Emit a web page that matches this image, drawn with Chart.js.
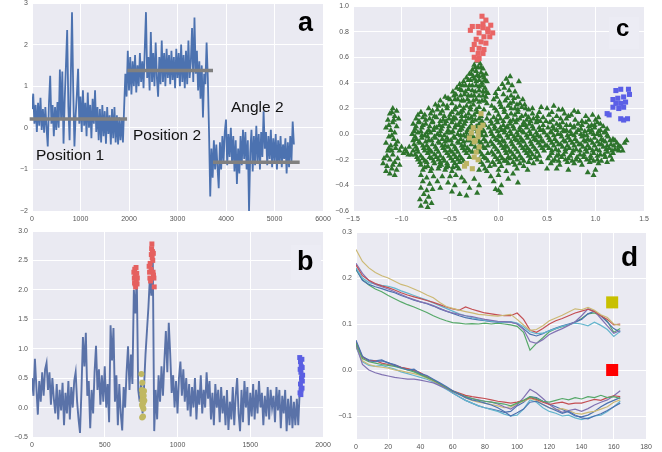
<!DOCTYPE html>
<html>
<head>
<meta charset="utf-8">
<script src="https://cdn.jsdelivr.net/npm/chart.js@4.4.1/dist/chart.umd.min.js"></script>
<style>
  html, body { margin: 0; padding: 0; background: #fff; }
  #page { position: relative; width: 662px; height: 452px; overflow: hidden; }
  canvas { position: absolute; left: -20px; top: -20px; }
  .tag { position: absolute; font-family: "Liberation Sans", Arial, sans-serif; font-weight: bold; line-height: 1; color: #000; }
  .note { position: absolute; font: 15.5px "Liberation Sans", Arial, sans-serif; line-height: 1; color: #111; white-space: nowrap; }
  .box { position: absolute; background: #ececf4; }
</style>
</head>
<body>
<div id="page">
  <canvas id="chart-a" width="702" height="492"></canvas>
  <canvas id="chart-b" width="702" height="492"></canvas>
  <canvas id="chart-c" width="702" height="492"></canvas>
  <canvas id="chart-d" width="702" height="492"></canvas>
  <div class="box" style="left:291px;top:245px;width:30px;height:35px"></div>
  <div class="box" style="left:609px;top:17px;width:30px;height:32px"></div>
  <div class="tag" style="left:298px;top:9px;font-size:27px">a</div>
  <div class="tag" style="left:297px;top:248px;font-size:27px">b</div>
  <div class="tag" style="left:616px;top:16px;font-size:24px">c</div>
  <div class="tag" style="left:621px;top:243px;font-size:28px">d</div>
  <div class="note" style="left:36px;top:147px">Position 1</div>
  <div class="note" style="left:133px;top:127px">Position 2</div>
  <div class="note" style="left:231px;top:99px">Angle 2</div>
</div>
<script>
// panel a: trace sampled every 25 frames, plus the three level bars
const aStep = 25;
const aValues = [
  0.45, 0.82, 0.1, 0.55, -0.1, 0.6, 0.05, 0.72, -0.05, 0.45,
  -0.12, 0.5, 0.0, -0.45, 0.6, 1.25, 0.1, 0.55, -0.2, 0.5,
  -0.05, 0.62, 0.0, 1.4, 0.2, 1.35, -0.38, 0.7, 1.5, 2.35,
  0.5, -0.3, 1.2, 2.78, 0.9, -0.45, 0.3, 0.8, 1.42, 0.1,
  0.75, -0.1, 0.9, 0.05, 0.6, -0.2, 0.85, 0.0, 0.55, -0.25,
  0.7, 0.1, 0.9, -0.1, 0.5, -0.3, 0.45, -0.35, 0.55, -0.2,
  0.4, -0.38, 0.5, -0.15, 0.3, -0.4, 0.45, -0.25, 0.5, -0.35,
  0.3, -0.4, 0.25, -0.3, 0.2, -0.35,
  0.5, 1.3, 0.75, 1.85,
  0.9, 1.7, 0.8, 1.6, 1.0, 1.75, 0.85, 1.5, 1.0, 1.8,
  1.1, 1.6, 0.95, 1.9, 2.78, 1.2, 1.7, 0.9, 2.3, 1.1,
  1.8, 1.0, 2.05, 1.2, 0.75, 1.7, 1.05, 2.1, 1.1, 1.8,
  1.0, 1.9, 1.2, 1.75, 1.05, 1.85, 1.15, 1.7, 0.95, 1.9,
  1.2, 1.8, 1.0, 2.0, 1.1, 1.75, 0.95, 1.85, 1.05, 2.1,
  1.2, 1.6, 2.4, 1.1, 2.65, 1.3, 1.85, 0.9, 1.6, 0.7,
  1.5, 0.25, 1.3, 1.05, 2.05, 1.2, -0.1, -1.65, -0.5, -1.2,
  -0.3, -1.0, -0.4, -0.95, -1.45, -0.35, -1.0, -0.2, -0.8, -0.1,
  0.2, -0.9, -0.15, -0.7, 0.0, -0.85, -0.2, -1.05, -0.3, -1.35,
  -0.5, -1.1, -0.2, -0.9, -0.05, -0.75, -0.1, -1.0, -0.3, -2.0,
  -0.6, -0.05, -1.05, -0.2, -0.9, 0.05, -0.8, -0.15, -1.0, -0.1,
  -0.7, 0.4, -0.5, -0.1, -0.9, -0.2, -0.75, -0.05, -0.95, -0.25,
  -0.8, -0.15, -1.0, -0.3, -0.85, -0.2, -0.95, -0.4, -0.75, -0.25,
  -1.1, -0.35, -0.95, -0.2, -0.8, 0.15, -0.4
];
const aLevelStart = [-48, 1966, 3732];
const aLevelEnd = [1960, 3732, 5519];
const aLevelValue = [0.21, 1.38, -0.83];
const aXTicks = [0, 1000, 2000, 3000, 4000, 5000, 6000];
const aYTicks = [-2, -1, 0, 1, 2, 3];

// panel b: trace sampled every 10 frames, with the marked frames
const bStep = 10;
const bValues = [
  0.5, 0.2, 0.83, 0.35, -0.12, 0.45, 0.1, 0.6, 0.2, 0.65,
  0.76, 0.3, 0.6, 0.05, 0.5, 0.15, -0.1, 0.4, -0.2, 0.3,
  -0.05, 0.42, -0.3, 0.25, -0.1, 0.45, -0.2, 0.35, 0.0, 0.45,
  0.6, 0.1, -0.2, -0.43, 0.3, 1.2, 0.7, 1.27, 0.2, 0.45,
  -0.35, 0.3, -0.1, 0.6, 1.05, 0.3, 0.65, 0.05, 0.55, 0.1,
  0.7, 0.0, 0.4, -0.25, 1.4, 0.8, 1.35, 0.1, 0.55, -0.3,
  0.4, -0.1, -0.39, 0.35, 0.0, 0.6, 1.04, 0.3, 0.9, 0.4,
  2.0, 1.6, 2.2, 0.3, 0.1, 0.45, -0.1, 0.35, 0.9, 1.3,
  1.7, 2.2, 1.9, 2.6, -0.4, 0.3, -0.2, 0.55, 0.1, 0.7,
  0.2, 0.8, 1.3, 0.6, 1.44, 0.9, 0.25, 0.55, 0.0, 0.45,
  -0.1, 0.5, 0.78, 0.2, 0.65, 0.1, 0.5, -0.05, 0.4, -0.15,
  0.35, 0.0, 0.5, -0.2, 0.3, 0.05, 0.55, -0.1, 0.3, 0.0,
  0.6, 0.15, 0.45, -0.2, 0.25, -0.3, 0.4, 0.0, 0.3, -0.25,
  0.35, -0.1, 0.2, -0.3, 0.3, -0.38, 0.1, -0.2, 0.35, -0.3,
  0.2, 0.5, -0.1, -0.4, 0.3, -0.25, 0.45, 0.0, 0.35, -0.3,
  0.25, -0.15, 0.4, -0.2, 0.3, -0.1, 0.45, 0.0, 0.25, -0.3,
  0.2, -0.15, 0.35, -0.2, 0.3, 0.0, 0.2, -0.25, 0.35, -0.05,
  0.3, -0.35, 0.2, -0.1, 0.3, -0.4, 0.15, -0.3, 0.2, -0.35,
  0.1, -0.3, 0.15, -0.3, 0.3, 0.85, 0.5
];
const bRed = [
  [700, 2.3], [703, 2.2], [705, 2.12], [706, 2.35], [708, 2.1], [710, 2.25], [712, 2.05],
  [715, 2.38], [717, 2.15], [720, 2.28], [722, 2.1], [724, 2.2],
  [805, 2.4], [808, 2.3], [810, 2.2], [812, 2.45], [815, 2.15], [818, 2.35], [820, 2.6],
  [822, 2.7], [824, 2.78], [826, 2.55], [828, 2.65], [830, 2.5], [832, 2.3], [834, 2.62],
  [835, 2.25], [838, 2.2], [840, 2.05]
];
const bOlive = [
  [752, 0.57], [758, 0.42], [755, 0.3], [760, 0.25], [762, 0.18], [758, 0.12], [765, 0.08],
  [760, 0.02], [768, 0.2], [756, 0.05], [763, -0.15], [770, 0.28], [766, -0.02], [759, 0.22],
  [772, 0.12], [757, -0.17]
];
const bBlue = [
  [1840, 0.85], [1845, 0.78], [1850, 0.7], [1855, 0.82], [1848, 0.6], [1852, 0.5], [1858, 0.45],
  [1845, 0.4], [1850, 0.3], [1856, 0.33], [1842, 0.25], [1848, 0.22], [1860, 0.55], [1843, 0.65],
  [1857, 0.68]
];
const bXTicks = [0, 500, 1000, 1500, 2000];
const bYTicks = [-0.5, 0.0, 0.5, 1.0, 1.5, 2.0, 2.5, 3.0];

// panel c: projection of all frames (green) and of the marked frames
const cGreen = [
  [-0.22, 0.57], [-0.19, 0.55], [-0.25, 0.54], [-0.21, 0.52], [-0.16, 0.51], [-0.27, 0.5], [-0.23, 0.49],
  [-0.18, 0.48], [-0.13, 0.47], [-0.3, 0.47], [-0.26, 0.45], [-0.2, 0.45], [-0.15, 0.44], [-0.33, 0.44],
  [-0.36, 0.41], [-0.29, 0.42], [-0.23, 0.41], [-0.17, 0.4], [-0.12, 0.41], [-0.4, 0.39], [-0.34, 0.38],
  [-0.27, 0.38], [-0.2, 0.37], [-0.14, 0.36], [-0.43, 0.36], [-0.38, 0.34], [-0.31, 0.35], [-0.24, 0.33],
  [-0.16, 0.33], [-0.11, 0.32], [-0.47, 0.33], [-0.44, 0.31], [-0.35, 0.31], [-0.28, 0.3], [-0.2, 0.3],
  [-0.13, 0.29],
  [-0.24, 0.52], [-0.18, 0.52], [-0.28, 0.47], [-0.22, 0.46], [-0.16, 0.46], [-0.31, 0.42], [-0.25, 0.43],
  [-0.2, 0.42], [-0.14, 0.42], [-0.37, 0.38], [-0.3, 0.38], [-0.23, 0.38], [-0.17, 0.38], [-0.4, 0.35],
  [-0.34, 0.33], [-0.27, 0.34], [-0.2, 0.34], [-0.13, 0.33], [-0.46, 0.3], [-0.39, 0.3], [-0.31, 0.3],
  [-0.25, 0.3], [-0.16, 0.3], [-0.52, 0.28], [-0.45, 0.27], [-0.38, 0.26], [-0.32, 0.27], [-0.26, 0.26],
  [-0.2, 0.25], [-0.14, 0.26],
  [0.12, 0.45], [0.08, 0.43], [0.21, 0.41], [0.1, 0.4], [0.04, 0.39], [0.14, 0.38], [0.06, 0.36],
  [0.0, 0.35], [0.11, 0.34], [0.17, 0.33], [-0.03, 0.32], [0.05, 0.31], [0.13, 0.3], [0.2, 0.29], [0.25, 0.27],
  [-0.55, 0.29], [-0.5, 0.27], [-0.6, 0.26], [-0.42, 0.27], [-0.36, 0.26], [-0.3, 0.25], [-0.23, 0.27],
  [-0.17, 0.26], [-0.65, 0.23], [-0.57, 0.23], [-0.48, 0.24], [-0.4, 0.22], [-0.33, 0.22], [-0.26, 0.23],
  [-0.2, 0.21], [-0.12, 0.24], [-0.72, 0.2], [-0.63, 0.19], [-0.53, 0.2], [-0.45, 0.19], [-0.37, 0.18],
  [-0.29, 0.19], [-0.15, 0.19], [-0.8, 0.17], [-0.7, 0.16], [-0.6, 0.16], [-0.5, 0.15], [-0.42, 0.16],
  [-0.34, 0.14], [-0.25, 0.15], [-0.18, 0.14], [-0.1, 0.16],
  [-0.62, 0.22], [-0.53, 0.22], [-0.44, 0.21], [-0.36, 0.2], [-0.29, 0.21], [-0.23, 0.19], [-0.68, 0.18],
  [-0.58, 0.18], [-0.48, 0.17], [-0.39, 0.17], [-0.31, 0.16], [-0.22, 0.17], [-0.76, 0.15], [-0.66, 0.14],
  [-0.56, 0.14], [-0.46, 0.13], [-0.38, 0.14], [-0.28, 0.13], [-0.2, 0.12], [-0.83, 0.15],
  [-0.05, 0.27], [0.01, 0.25], [0.07, 0.26], [0.15, 0.25], [0.22, 0.24], [-0.07, 0.22], [0.03, 0.21],
  [0.1, 0.22], [0.17, 0.2], [0.24, 0.21], [0.31, 0.19], [-0.02, 0.18], [0.06, 0.17], [0.13, 0.16],
  [0.2, 0.17], [0.28, 0.15], [0.35, 0.16], [0.42, 0.17], [0.35, 0.2], [0.44, 0.21], [0.4, 0.14],
  [0.0, 0.15], [0.09, 0.14], [0.17, 0.15], [0.24, 0.14], [0.31, 0.13], [-0.04, 0.2], [0.06, 0.19],
  [0.13, 0.2], [0.2, 0.19], [0.28, 0.2], [0.02, 0.23], [0.12, 0.24], [0.19, 0.23], [0.27, 0.23],
  [-0.02, 0.29], [0.09, 0.28], [0.16, 0.28],
  [0.5, 0.2], [0.57, 0.22], [0.62, 0.19], [0.52, 0.15], [0.6, 0.14], [0.68, 0.16], [0.75, 0.15],
  [0.82, 0.17], [0.9, 0.14], [0.97, 0.15], [1.03, 0.13], [0.7, 0.12], [0.79, 0.11], [0.46, 0.13], [0.86, 0.1],
  [0.49, 0.1], [0.56, 0.11], [0.64, 0.12], [0.72, 0.14], [0.93, 0.11], [1.0, 0.11], [0.55, 0.17],
  [0.66, 0.19], [0.78, 0.18],
  [-1.09, 0.2], [-1.05, 0.18], [-1.12, 0.16], [-1.07, 0.14], [-1.03, 0.12], [-1.14, 0.11], [-1.09, 0.09],
  [-1.05, 0.06], [-1.16, 0.05], [-1.11, 0.03], [-1.07, 0.01], [-1.13, -0.02], [-1.08, -0.04], [-1.04, -0.06],
  [-1.16, -0.07], [-1.11, -0.09], [-1.06, -0.11], [-1.0, -0.1], [-0.96, -0.12], [-0.92, -0.1], [-0.88, -0.13],
  [-0.98, -0.15], [-0.93, -0.16], [-1.14, -0.13], [-1.09, -0.16], [-1.18, -0.19], [-1.12, -0.2], [-1.07, -0.22],
  [-1.15, -0.25], [-1.1, -0.27], [-1.05, -0.28], [-1.12, -0.31], [-1.07, -0.32], [-1.02, -0.24], [-1.19, -0.23],
  [-1.1, 0.17], [-1.13, 0.07], [-1.08, 0.11], [-1.1, -0.01], [-1.06, -0.08], [-1.13, -0.11], [-1.02, -0.13],
  [-1.1, -0.13], [-1.15, -0.17], [-1.09, -0.24], [-1.04, -0.19], [-0.95, -0.14], [-0.9, -0.16], [-1.16, -0.29],
  [-0.85, 0.12], [-0.78, 0.13], [-0.71, 0.12], [-0.64, 0.13], [-0.57, 0.11], [-0.51, 0.12], [-0.44, 0.12],
  [-0.38, 0.11], [-0.31, 0.12], [-0.24, 0.11], [-0.17, 0.1], [-0.12, 0.12],
  [-0.82, 0.1], [-0.75, 0.11], [-0.68, 0.1], [-0.6, 0.1], [-0.54, 0.1], [-0.47, 0.11], [-0.4, 0.09],
  [-0.34, 0.1], [-0.27, 0.1],
  [-0.88, 0.08], [-0.82, 0.09], [-0.75, 0.08], [-0.68, 0.09], [-0.61, 0.07], [-0.55, 0.08], [-0.48, 0.09],
  [-0.41, 0.07], [-0.35, 0.08], [-0.28, 0.07], [-0.2, 0.08], [-0.14, 0.07],
  [-0.85, 0.06], [-0.78, 0.07], [-0.71, 0.06], [-0.64, 0.05], [-0.58, 0.06], [-0.51, 0.06], [-0.44, 0.07],
  [-0.37, 0.06], [-0.3, 0.05], [-0.23, 0.06],
  [-0.86, 0.04], [-0.79, 0.05], [-0.72, 0.03], [-0.66, 0.05], [-0.59, 0.04], [-0.52, 0.03], [-0.45, 0.05],
  [-0.38, 0.04], [-0.32, 0.03], [-0.25, 0.04], [-0.16, 0.03], [-0.1, 0.05],
  [-0.87, 0.02], [-0.8, 0.02], [-0.74, 0.01], [-0.67, 0.03], [-0.6, 0.02], [-0.53, 0.01], [-0.47, 0.02],
  [-0.4, 0.03], [-0.33, 0.01], [-0.22, 0.02], [-0.15, 0.02],
  [-0.89, 0.0], [-0.83, 0.01], [-0.76, -0.01], [-0.7, 0.01], [-0.63, 0.0], [-0.56, -0.01], [-0.49, 0.01],
  [-0.42, 0.0], [-0.36, -0.01], [-0.29, 0.0], [-0.19, 0.01], [-0.13, -0.01],
  [-0.86, -0.02], [-0.79, -0.01], [-0.73, -0.02], [-0.66, -0.02], [-0.6, -0.01], [-0.53, -0.03], [-0.46, -0.02],
  [-0.39, -0.01], [-0.33, -0.02], [-0.26, -0.02], [-0.17, -0.01],
  [-0.85, -0.04], [-0.79, -0.03], [-0.72, -0.05], [-0.65, -0.03], [-0.58, -0.04], [-0.52, -0.05], [-0.45, -0.03],
  [-0.39, -0.04], [-0.32, -0.05], [-0.22, -0.03], [-0.15, -0.04],
  [-0.88, -0.05], [-0.82, -0.06], [-0.75, -0.06], [-0.69, -0.05], [-0.62, -0.06], [-0.55, -0.06], [-0.49, -0.05],
  [-0.42, -0.06], [-0.36, -0.06], [-0.3, -0.05], [-0.2, -0.06], [-0.13, -0.06],
  [-0.87, -0.08], [-0.81, -0.07], [-0.74, -0.09], [-0.68, -0.08], [-0.61, -0.07], [-0.55, -0.09], [-0.48, -0.08],
  [-0.41, -0.07], [-0.35, -0.09], [-0.28, -0.08], [-0.18, -0.07], [-0.11, -0.09],
  [-0.85, -0.1], [-0.78, -0.09], [-0.72, -0.11], [-0.65, -0.1], [-0.58, -0.09], [-0.52, -0.1], [-0.45, -0.1],
  [-0.38, -0.09], [-0.32, -0.11], [-0.24, -0.1], [-0.16, -0.1],
  [-0.84, -0.12], [-0.77, -0.11], [-0.71, -0.13], [-0.64, -0.12], [-0.57, -0.11], [-0.5, -0.13], [-0.44, -0.12],
  [-0.37, -0.11], [-0.3, -0.13], [-0.21, -0.12], [-0.14, -0.11],
  [-0.83, -0.14], [-0.76, -0.13], [-0.69, -0.14], [-0.62, -0.14], [-0.55, -0.13], [-0.48, -0.14], [-0.42, -0.14],
  [-0.35, -0.13], [-0.27, -0.14], [-0.19, -0.14],
  [-0.86, -0.16], [-0.8, -0.17], [-0.73, -0.15], [-0.66, -0.16], [-0.6, -0.17], [-0.53, -0.15], [-0.46, -0.16],
  [-0.4, -0.17], [-0.33, -0.15], [-0.17, -0.16], [-0.11, -0.15],
  [-0.84, -0.18], [-0.78, -0.19], [-0.71, -0.18], [-0.64, -0.18], [-0.57, -0.19], [-0.51, -0.17], [-0.44, -0.18],
  [-0.38, -0.19], [-0.3, -0.18], [-0.15, -0.18],
  [-0.83, -0.2], [-0.76, -0.21], [-0.69, -0.19], [-0.62, -0.2], [-0.56, -0.21], [-0.49, -0.19], [-0.42, -0.2],
  [-0.36, -0.21], [-0.2, -0.2], [-0.13, -0.19],
  [-0.81, -0.22], [-0.74, -0.22], [-0.67, -0.21], [-0.6, -0.22], [-0.53, -0.23], [-0.47, -0.21], [-0.4, -0.22],
  [-0.18, -0.22], [-0.11, -0.21],
  [-0.8, -0.24], [-0.73, -0.25], [-0.66, -0.23], [-0.59, -0.24], [-0.52, -0.25], [-0.45, -0.23], [-0.16, -0.24],
  [-0.09, -0.25],
  [-0.76, -0.26], [-0.69, -0.27], [-0.61, -0.25], [-0.54, -0.26], [-0.47, -0.26], [-0.43, -0.25], [-0.14, -0.27],
  [-0.78, -0.28], [-0.7, -0.29], [-0.62, -0.27], [-0.55, -0.28], [-0.48, -0.29], [-0.41, -0.27], [-0.2, -0.28],
  [-0.12, -0.29],
  [-0.8, -0.32], [-0.74, -0.34], [-0.67, -0.33], [-0.78, -0.37], [-0.71, -0.39], [-0.63, -0.37], [-0.8, -0.42],
  [-0.74, -0.44], [-0.68, -0.43], [-0.77, -0.47], [-0.72, -0.49], [-0.81, -0.51], [-0.75, -0.53], [-0.69, -0.54],
  [-0.8, -0.56], [-0.73, -0.57], [-0.58, -0.33], [-0.6, -0.42],
  [-0.5, -0.33], [-0.44, -0.32], [-0.38, -0.34], [-0.52, -0.38], [-0.45, -0.4], [-0.35, -0.37], [-0.48, -0.45],
  [-0.4, -0.47], [-0.3, -0.42], [-0.25, -0.35], [-0.2, -0.4], [-0.22, -0.46], [-0.33, -0.48],
  [-0.08, -0.33], [0.0, -0.32], [-0.05, -0.37], [0.03, -0.4], [-0.03, -0.43], [0.02, -0.46], [0.0, -0.44],
  [0.1, -0.35], [0.2, -0.38], [0.15, -0.31],
  [-0.05, 0.13], [0.02, 0.12], [0.08, 0.13], [0.15, 0.11], [0.22, 0.12], [0.29, 0.11], [0.36, 0.12], [0.43, 0.1],
  [-0.08, 0.1], [-0.02, 0.11], [0.05, 0.1], [0.12, 0.1], [0.19, 0.11], [0.26, 0.09], [0.33, 0.1], [0.4, 0.11],
  [-0.07, 0.08], [-0.01, 0.09], [0.05, 0.07], [0.12, 0.08], [0.18, 0.09], [0.25, 0.07], [0.32, 0.08], [0.39, 0.09],
  [0.46, 0.07],
  [-0.04, 0.06], [0.02, 0.05], [0.09, 0.06], [0.15, 0.06], [0.22, 0.05], [0.28, 0.07], [0.35, 0.06], [0.42, 0.05],
  [-0.04, 0.04], [0.03, 0.03], [0.09, 0.05], [0.16, 0.04], [0.22, 0.03], [0.29, 0.05], [0.36, 0.04], [0.43, 0.03],
  [-0.08, 0.02], [-0.01, 0.02], [0.06, 0.03], [0.12, 0.02], [0.19, 0.01], [0.25, 0.02], [0.32, 0.02], [0.39, 0.01],
  [0.46, 0.03],
  [-0.07, 0.0], [0.0, -0.01], [0.06, 0.01], [0.13, 0.0], [0.2, -0.01], [0.26, 0.01], [0.33, 0.0], [0.4, -0.01],
  [0.47, 0.01],
  [-0.05, -0.02], [0.02, -0.02], [0.09, -0.01], [0.16, -0.02], [0.23, -0.03], [0.29, -0.01], [0.36, -0.02],
  [0.43, -0.02],
  [-0.03, -0.04], [0.04, -0.05], [0.1, -0.03], [0.17, -0.04], [0.24, -0.05], [0.3, -0.03], [0.37, -0.04],
  [0.44, -0.05],
  [-0.08, -0.06], [-0.01, -0.05], [0.06, -0.06], [0.13, -0.06], [0.19, -0.05], [0.26, -0.06], [0.33, -0.06],
  [0.39, -0.05], [0.46, -0.06],
  [-0.06, -0.08], [0.01, -0.07], [0.07, -0.09], [0.14, -0.08], [0.21, -0.07], [0.28, -0.09], [0.34, -0.08],
  [0.41, -0.07], [0.48, -0.09],
  [-0.04, -0.1], [0.03, -0.09], [0.09, -0.1], [0.16, -0.1], [0.23, -0.09], [0.3, -0.11], [0.36, -0.1],
  [0.43, -0.09],
  [-0.02, -0.12], [0.05, -0.11], [0.11, -0.13], [0.18, -0.12], [0.25, -0.11], [0.32, -0.13], [0.38, -0.12],
  [0.45, -0.11],
  [-0.07, -0.14], [0.0, -0.14], [0.07, -0.13], [0.13, -0.14], [0.2, -0.14], [0.27, -0.13], [0.33, -0.14],
  [0.4, -0.14], [0.47, -0.13],
  [-0.05, -0.16], [0.02, -0.17], [0.08, -0.15], [0.15, -0.16], [0.22, -0.17], [0.29, -0.15], [0.35, -0.16],
  [0.42, -0.17],
  [-0.03, -0.18], [0.04, -0.19], [0.1, -0.18], [0.17, -0.18], [0.24, -0.19], [0.31, -0.17], [0.38, -0.18],
  [-0.01, -0.2], [0.06, -0.21], [0.12, -0.19], [0.19, -0.2], [0.26, -0.21], [0.33, -0.19], [0.4, -0.2],
  [-0.06, -0.22], [0.01, -0.22], [0.08, -0.21], [0.15, -0.22], [0.22, -0.23], [0.31, -0.22], [0.44, -0.22],
  [-0.04, -0.24], [0.03, -0.25], [0.1, -0.23], [0.17, -0.24], [0.26, -0.25], [0.36, -0.23],
  [0.0, -0.28], [0.08, -0.29], [0.19, -0.27], [0.3, -0.28],
  [0.53, 0.09], [0.6, 0.08], [0.66, 0.09], [0.74, 0.07], [0.82, 0.08], [0.9, 0.09], [0.96, 0.07], [1.02, 0.09],
  [1.08, 0.06],
  [0.56, 0.06], [0.63, 0.07], [0.7, 0.07], [0.78, 0.06], [0.86, 0.07], [0.93, 0.06], [0.99, 0.07], [1.05, 0.08],
  [0.51, 0.05], [0.57, 0.04], [0.64, 0.05], [0.7, 0.03], [0.77, 0.05], [0.85, 0.04], [0.93, 0.03], [0.99, 0.05],
  [1.05, 0.03], [1.12, 0.04],
  [0.54, 0.02], [0.6, 0.03], [0.67, 0.03], [0.74, 0.02], [0.82, 0.03], [0.89, 0.02], [0.96, 0.03], [1.03, 0.02],
  [1.1, 0.02],
  [0.54, 0.01], [0.61, 0.0], [0.68, 0.02], [0.75, 0.0], [0.8, 0.01], [0.88, -0.01], [0.95, 0.01], [1.02, 0.0],
  [1.09, 0.01],
  [0.5, -0.01], [0.57, -0.01], [0.64, 0.0], [0.71, -0.01], [0.78, -0.01], [0.85, 0.0], [0.91, -0.01],
  [0.98, 0.0], [1.05, -0.01], [1.12, -0.01],
  [0.52, -0.03], [0.58, -0.04], [0.65, -0.02], [0.72, -0.03], [0.79, -0.04], [0.86, -0.02], [0.92, -0.04],
  [0.99, -0.03], [1.06, -0.04], [1.13, -0.02], [1.18, -0.04],
  [0.53, -0.05], [0.6, -0.06], [0.67, -0.05], [0.74, -0.05], [0.81, -0.06], [0.88, -0.05], [0.95, -0.05],
  [1.02, -0.06], [1.08, -0.05], [1.15, -0.05], [1.2, -0.05],
  [0.55, -0.07], [0.62, -0.08], [0.69, -0.06], [0.76, -0.07], [0.83, -0.08], [0.9, -0.06], [0.97, -0.07],
  [1.04, -0.08], [1.1, -0.06], [1.16, -0.08], [1.22, -0.07],
  [0.5, -0.09], [0.57, -0.09], [0.64, -0.08], [0.71, -0.09], [0.78, -0.09], [0.85, -0.08], [0.92, -0.09],
  [0.99, -0.09], [1.06, -0.08], [1.12, -0.09], [1.19, -0.09], [1.24, -0.09],
  [0.52, -0.11], [0.59, -0.12], [0.66, -0.1], [0.73, -0.11], [0.8, -0.12], [0.87, -0.1], [0.94, -0.11],
  [1.01, -0.12], [1.08, -0.1], [1.14, -0.11], [1.2, -0.12], [1.26, -0.1],
  [0.55, -0.13], [0.62, -0.13], [0.69, -0.12], [0.77, -0.13], [0.84, -0.13], [0.9, -0.12], [0.97, -0.13],
  [1.04, -0.13], [1.11, -0.12], [1.17, -0.13], [1.23, -0.12],
  [0.55, -0.15], [0.62, -0.16], [0.69, -0.14], [0.76, -0.15], [0.84, -0.16], [0.91, -0.14], [0.98, -0.15],
  [1.05, -0.16], [1.12, -0.14], [1.18, -0.15], [1.24, -0.13],
  [0.53, -0.17], [0.6, -0.17], [0.67, -0.16], [0.74, -0.17], [0.81, -0.18], [0.88, -0.16], [0.95, -0.17],
  [1.02, -0.17], [1.09, -0.16], [1.15, -0.17],
  [0.51, -0.19], [0.58, -0.2], [0.65, -0.18], [0.72, -0.19], [0.8, -0.2], [0.88, -0.18], [0.95, -0.19],
  [1.02, -0.2], [1.1, -0.18], [1.17, -0.2],
  [0.56, -0.21], [0.62, -0.21], [0.69, -0.2], [0.76, -0.21], [0.84, -0.21], [0.91, -0.2], [0.98, -0.21],
  [1.06, -0.21],
  [0.54, -0.23], [0.63, -0.24], [0.71, -0.22], [0.78, -0.23], [0.86, -0.24], [0.94, -0.22], [1.03, -0.23],
  [1.12, -0.22],
  [0.6, -0.27], [0.72, -0.28], [0.92, -0.3], [1.0, -0.28], [0.98, -0.32], [0.5, -0.27], [1.3, -0.07],
  [1.28, -0.13], [1.32, -0.05]
];
const cRed = [
  [-0.17, 0.92], [-0.13, 0.89], [-0.08, 0.85], [-0.11, 0.82], [-0.21, 0.84], [-0.27, 0.84], [-0.29, 0.81],
  [-0.16, 0.83], [-0.2, 0.79], [-0.15, 0.76], [-0.09, 0.76], [-0.23, 0.74], [-0.18, 0.72], [-0.13, 0.71],
  [-0.25, 0.7], [-0.2, 0.67], [-0.15, 0.66], [-0.21, 0.63], [-0.16, 0.63], [-0.25, 0.6], [-0.2, 0.59],
  [-0.22, 0.58], [-0.27, 0.66], [-0.11, 0.8], [-0.16, 0.86], [-0.06, 0.79]
];
const cBlue = [
  [1.21, 0.34], [1.26, 0.35], [1.34, 0.35], [1.18, 0.27], [1.23, 0.28], [1.29, 0.29], [1.35, 0.31],
  [1.21, 0.24], [1.26, 0.24], [1.31, 0.25], [1.24, 0.2], [1.29, 0.21], [1.14, 0.15], [1.12, 0.16],
  [1.26, 0.12], [1.29, 0.11], [1.33, 0.12], [1.18, 0.21]
];
const cOlive = [
  [-0.18, 0.16], [-0.16, 0.07], [-0.28, 0.01], [-0.21, -0.02], [-0.25, -0.06], [-0.2, -0.1], [-0.23, -0.14],
  [-0.25, -0.18], [-0.21, -0.2], [-0.33, -0.23], [-0.35, -0.25], [-0.27, -0.27], [-0.24, -0.05], [-0.3, -0.03],
  [-0.21, 0.02], [-0.19, 0.05], [-0.26, 0.05]
];
const cXTicks = [-1.5, -1.0, -0.5, 0.0, 0.5, 1.0, 1.5];
const cYTicks = [-0.6, -0.4, -0.2, 0.0, 0.2, 0.4, 0.6, 0.8, 1.0];

// panel d: profiles sampled every 4 steps, two groups of curves
const dStep = 4;
const dUpYellow = [0.262, 0.236, 0.222, 0.212, 0.205, 0.2, 0.193, 0.186, 0.182, 0.176, 0.17, 0.163, 0.157, 0.147, 0.138, 0.134, 0.13, 0.127, 0.124, 0.121, 0.12, 0.118, 0.117, 0.119, 0.121, 0.11, 0.098, 0.086, 0.088, 0.096, 0.107, 0.113, 0.119, 0.126, 0.133, 0.131, 0.136, 0.13, 0.12, 0.114, 0.1, 0.097];
const dUpRed = [0.228, 0.205, 0.195, 0.188, 0.183, 0.179, 0.174, 0.168, 0.163, 0.159, 0.155, 0.151, 0.147, 0.142, 0.137, 0.133, 0.13, 0.137, 0.132, 0.128, 0.124, 0.122, 0.12, 0.118, 0.118, 0.124, 0.11, 0.087, 0.082, 0.09, 0.1, 0.107, 0.112, 0.118, 0.124, 0.128, 0.132, 0.127, 0.118, 0.11, 0.098, 0.1];
const dUpPurple = [0.232, 0.21, 0.194, 0.186, 0.181, 0.176, 0.17, 0.164, 0.158, 0.153, 0.148, 0.145, 0.14, 0.134, 0.128, 0.124, 0.121, 0.118, 0.116, 0.113, 0.11, 0.108, 0.106, 0.105, 0.104, 0.1, 0.088, 0.062, 0.058, 0.066, 0.077, 0.084, 0.09, 0.097, 0.105, 0.118, 0.133, 0.128, 0.112, 0.096, 0.08, 0.086];
const dUpCyan = [0.222, 0.2, 0.19, 0.187, 0.184, 0.182, 0.178, 0.172, 0.167, 0.162, 0.157, 0.152, 0.146, 0.14, 0.134, 0.128, 0.122, 0.118, 0.114, 0.111, 0.108, 0.106, 0.105, 0.104, 0.105, 0.102, 0.094, 0.083, 0.079, 0.08, 0.085, 0.09, 0.095, 0.099, 0.102, 0.1, 0.096, 0.104, 0.097, 0.088, 0.073, 0.084];
const dUpBlue = [0.22, 0.195, 0.186, 0.181, 0.177, 0.172, 0.168, 0.162, 0.157, 0.152, 0.148, 0.144, 0.139, 0.133, 0.128, 0.123, 0.118, 0.114, 0.111, 0.109, 0.107, 0.105, 0.104, 0.104, 0.104, 0.101, 0.09, 0.078, 0.074, 0.079, 0.086, 0.091, 0.096, 0.1, 0.104, 0.11, 0.122, 0.128, 0.118, 0.104, 0.09, 0.082];
const dUpGreen = [0.218, 0.196, 0.185, 0.176, 0.17, 0.162, 0.155, 0.148, 0.142, 0.137, 0.131, 0.125, 0.118, 0.112, 0.107, 0.103, 0.102, 0.1, 0.101, 0.1, 0.102, 0.1, 0.102, 0.1, 0.098, 0.095, 0.082, 0.043, 0.058, 0.07, 0.083, 0.09, 0.094, 0.098, 0.104, 0.112, 0.122, 0.124, 0.118, 0.106, 0.082, 0.09];
const dLoBlue = [0.065, 0.03, 0.02, 0.018, 0.02, 0.016, 0.01, 0.005, 0.0, 0.002, -0.008, -0.012, -0.02, -0.028, -0.036, -0.045, -0.052, -0.06, -0.065, -0.068, -0.072, -0.076, -0.082, -0.09, -0.1, -0.093, -0.085, -0.07, -0.068, -0.075, -0.082, -0.088, -0.094, -0.09, -0.098, -0.104, -0.106, -0.1, -0.095, -0.088, -0.08, -0.072];
const dLoGreen = [0.058, 0.025, 0.018, 0.015, 0.012, 0.01, 0.008, 0.004, 0.0, -0.004, -0.01, -0.016, -0.022, -0.03, -0.038, -0.046, -0.052, -0.058, -0.062, -0.066, -0.068, -0.07, -0.072, -0.074, -0.078, -0.072, -0.066, -0.058, -0.062, -0.068, -0.07, -0.066, -0.062, -0.065, -0.06, -0.063, -0.058, -0.06, -0.055, -0.06, -0.058, -0.062];
const dLoRed = [0.06, 0.028, 0.02, 0.02, 0.015, 0.012, 0.01, 0.006, 0.003, 0.0, -0.006, -0.014, -0.022, -0.03, -0.038, -0.045, -0.05, -0.055, -0.058, -0.06, -0.062, -0.065, -0.068, -0.07, -0.072, -0.07, -0.066, -0.06, -0.064, -0.07, -0.075, -0.072, -0.07, -0.074, -0.072, -0.072, -0.068, -0.064, -0.066, -0.06, -0.056, -0.058];
const dLoPurple = [0.055, 0.012, 0.0, -0.006, -0.01, -0.013, -0.016, -0.018, -0.02, -0.02, -0.022, -0.025, -0.028, -0.034, -0.04, -0.047, -0.053, -0.058, -0.062, -0.065, -0.068, -0.07, -0.074, -0.08, -0.085, -0.076, -0.06, -0.042, -0.05, -0.062, -0.075, -0.085, -0.092, -0.088, -0.085, -0.09, -0.084, -0.076, -0.07, -0.065, -0.056, -0.045];
const dLoYellow = [0.052, 0.02, 0.012, 0.008, 0.006, 0.004, 0.0, -0.002, -0.005, -0.008, -0.012, -0.018, -0.024, -0.031, -0.038, -0.046, -0.053, -0.06, -0.066, -0.07, -0.072, -0.075, -0.078, -0.082, -0.08, -0.074, -0.068, -0.062, -0.066, -0.075, -0.082, -0.086, -0.084, -0.088, -0.094, -0.096, -0.092, -0.09, -0.085, -0.08, -0.07, -0.065];
const dLoCyan = [0.05, 0.018, 0.01, 0.008, 0.01, 0.006, 0.002, -0.004, -0.008, -0.012, -0.016, -0.02, -0.026, -0.034, -0.042, -0.05, -0.058, -0.066, -0.072, -0.078, -0.082, -0.086, -0.09, -0.096, -0.1, -0.098, -0.085, -0.065, -0.07, -0.082, -0.09, -0.094, -0.1, -0.098, -0.104, -0.108, -0.104, -0.1, -0.098, -0.09, -0.08, -0.068];
const dLoBlue2 = [0.062, 0.028, 0.022, 0.02, 0.022, 0.015, 0.012, 0.006, 0.002, -0.002, -0.01, -0.016, -0.024, -0.032, -0.04, -0.05, -0.058, -0.066, -0.072, -0.078, -0.082, -0.085, -0.088, -0.092, -0.09, -0.078, -0.07, -0.058, -0.06, -0.068, -0.074, -0.08, -0.086, -0.092, -0.1, -0.102, -0.098, -0.09, -0.08, -0.072, -0.066, -0.06];
const dMarkers = [[159, 0.147], [159, 0.0]];
const dXTicks = [0, 20, 40, 60, 80, 100, 120, 140, 160, 180];
const dYTicks = [-0.1, 0.0, 0.1, 0.2, 0.3];


const FONT = '"Liberation Sans", Arial, sans-serif';
const OFFSET = 20;
const CANVAS_W = 702;
const CANVAS_H = 492;
const Y_AXIS_W = 30;
const X_AXIS_H = 14;

const plotBackground = {
    id: 'plotBackground',
    beforeDraw(chart) {
        const { ctx, chartArea } = chart;
        ctx.save();
        ctx.fillStyle = '#eaeaf2';
        ctx.fillRect(chartArea.left, chartArea.top, chartArea.right - chartArea.left, chartArea.bottom - chartArea.top);
        ctx.restore();
    }
};


function fmt(value, digits) {
    const text = Math.abs(value).toFixed(digits);
    return value < 0 ? '\u2212' + text : text;
}


function makeAxis(min, max, ticks, digits, vertical) {
    return {
        type: 'linear',
        min: min,
        max: max,
        afterBuildTicks: scale => { scale.ticks = ticks.map(v => ({ value: v })); },
        afterFit: scale => {
            if (vertical) scale.width = Y_AXIS_W;
            else scale.height = X_AXIS_H;
        },
        grid: { color: '#ffffff', lineWidth: 1, drawTicks: false },
        border: { display: false },
        ticks: {
            padding: 4,
            color: '#555555',
            autoSkip: false,
            maxRotation: 0,
            font: { family: FONT, size: 7 },
            callback: v => fmt(v, digits)
        }
    };
}


function series(values, step) {
    return values.map((v, i) => ({ x: i * step, y: v }));
}


function points(list) {
    return list.map(p => ({ x: p[0], y: p[1] }));
}


function lineSet(data, color, width, order) {
    return { data: data, showLine: true, borderColor: color, borderWidth: width, pointRadius: 0, order: order };
}


function markerSet(list, color, style, radius, order) {
    return {
        data: points(list),
        showLine: false,
        pointStyle: style,
        pointRadius: radius,
        pointBackgroundColor: color,
        pointBorderWidth: 0,
        order: order
    };
}


// area = [left, top, right, bottom] of the plot in page pixels
function drawPanel(id, area, xAxis, yAxis, datasets) {
    new Chart(document.getElementById(id), {
        type: 'scatter',
        data: { datasets: datasets },
        options: {
            responsive: false,
            animation: false,
            devicePixelRatio: 1,
            events: [],
            layout: {
                padding: {
                    left: area[0] + OFFSET - Y_AXIS_W,
                    top: area[1] + OFFSET,
                    right: CANVAS_W - area[2] - OFFSET,
                    bottom: CANVAS_H - area[3] - OFFSET - X_AXIS_H
                }
            },
            plugins: { legend: { display: false }, tooltip: { enabled: false } },
            scales: { x: xAxis, y: yAxis }
        },
        plugins: [plotBackground]
    });
}


const levelSets = aLevelValue.map((v, i) => {
    const set = lineSet([{ x: aLevelStart[i], y: v }, { x: aLevelEnd[i], y: v }], '#808080', 3.5, 0);
    set.clip = false;
    return set;
});
drawPanel('chart-a', [32, 3, 323, 211],
    makeAxis(0, 6000, aXTicks, 0, false),
    makeAxis(-2, 3, aYTicks, 0, true),
    levelSets.concat([lineSet(series(aValues, aStep), '#4c72b0', 1.8, 1)]));

drawPanel('chart-b', [32, 231, 323, 437],
    makeAxis(0, 2000, bXTicks, 0, false),
    makeAxis(-0.5, 3.0, bYTicks, 1, true),
    [
        markerSet(bRed, '#e5605f', 'rect', 3.5, 0),
        markerSet(bOlive, '#c0b862', 'circle', 3, 0),
        markerSet(bBlue, '#5b5fe3', 'rect', 3.5, 0),
        lineSet(series(bValues, bStep), '#5a72a8', 1.9, 1)
    ]);

drawPanel('chart-c', [353, 6, 644, 211],
    makeAxis(-1.5, 1.5, cXTicks, 1, false),
    makeAxis(-0.6, 1.0, cYTicks, 1, true),
    [
        markerSet(cRed, '#e96565', 'rect', 3.6, 0),
        markerSet(cBlue, '#5b5fe6', 'rect', 3.6, 0),
        markerSet(cOlive, '#bdb565', 'rect', 3.6, 0),
        markerSet(cGreen, '#2d742c', 'triangle', 3.5, 1)
    ]);

const dLines = [
    [dUpYellow, '#ccb974'], [dUpRed, '#c44e52'], [dUpPurple, '#8172b2'],
    [dUpCyan, '#64b5cd'], [dUpBlue, '#4c72b0'], [dUpGreen, '#55a868'],
    [dLoBlue, '#4c72b0'], [dLoGreen, '#55a868'], [dLoRed, '#c44e52'],
    [dLoPurple, '#8172b2'], [dLoYellow, '#ccb974'], [dLoCyan, '#64b5cd'], [dLoBlue2, '#4c72b0']
];
drawPanel('chart-d', [356, 232, 646, 439],
    makeAxis(0, 180, dXTicks, 0, false),
    makeAxis(-0.15, 0.3, dYTicks, 1, true),
    [
        markerSet([dMarkers[0]], '#c8c000', 'rect', 8.5, 0),
        markerSet([dMarkers[1]], '#ff0000', 'rect', 8.5, 0)
    ].concat(dLines.map(l => lineSet(series(l[0], dStep), l[1], 1.2, 1))));
</script>
</body>
</html>
